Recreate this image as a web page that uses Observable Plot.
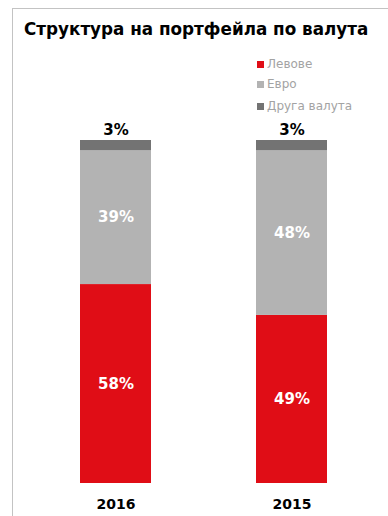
<!DOCTYPE html>
<html>
<head>
<meta charset="utf-8">
<script src="https://cdn.jsdelivr.net/npm/d3@7"></script>
<script src="https://cdn.jsdelivr.net/npm/@observablehq/plot@0.6"></script>
<style>
  html, body { margin: 0; padding: 0; background: #fff; }
  #wrap { position: relative; width: 388px; height: 516px; overflow: hidden; font-family: "DejaVu Sans", Verdana, sans-serif; }
  #frame { position: absolute; left: 12px; top: 8px; right: -2px; bottom: -2px; border-left: 1px solid #c3c3c3; border-top: 1px solid #c3c3c3; }
  #title { position: absolute; left: 24px; top: 19px; font-size: 16.8px; font-weight: bold; color: #000; white-space: nowrap; }
  #legend { position: absolute; left: 257px; top: 57px; font-size: 12px; color: #a3a3a3; }
  .row { position: absolute; left: 0; white-space: nowrap; display: flex; align-items: center; }
  .sw { width: 7px; height: 7px; margin-right: 3px; }
  #chart { position: absolute; left: 0; top: 110px; }
</style>
</head>
<body>
<div id="wrap">
  <div id="frame"></div>
  <div id="title">Структура на портфейла по валута</div>
  <div id="legend"></div>
  <div id="chart"></div>
</div>
<script>
const years = ["2016", "2015"];
const seriesNames = ["Левове", "Евро", "Друга валута"];
const levove = [58, 49];
const evro = [39, 48];
const druga = [3, 3];
const colors = ["#e00d16", "#b3b3b3", "#737373"];

const seriesValues = [levove, evro, druga];
const data = [];
seriesNames.forEach((s, si) => {
  years.forEach((y, yi) => data.push({year: y, series: s, value: seriesValues[si][yi]}));
});

// legend
const legend = document.getElementById("legend");
const legendTops = [0, 20, 42];
seriesNames.forEach((s, i) => {
  const row = document.createElement("div");
  row.className = "row";
  row.style.top = legendTops[i] + "px";
  row.innerHTML = `<span class="sw" style="background:${colors[i]}"></span><span>${s}</span>`;
  legend.appendChild(row);
});

const topName = seriesNames[seriesNames.length - 1];
const chart = Plot.plot({
  width: 388,
  height: 406,
  marginLeft: 26,
  marginRight: 8,
  marginTop: 30,
  marginBottom: 33,
  style: {fontFamily: "DejaVu Sans, Verdana, sans-serif", background: "transparent"},
  x: {domain: years, padding: 0.599, paddingOuter: 0.3, label: null, tickSize: 0, tickPadding: 16},
  y: {domain: [0, 100], axis: null},
  color: {domain: seriesNames, range: colors},
  marks: [
    Plot.barY(data, {x: "year", y: "value", fill: "series"}),
    Plot.text(data, Plot.stackY({
      x: "year", y: "value", z: "series",
      text: d => d.series === topName ? "" : d.value + "%",
      fill: "white", fontSize: 15, fontWeight: "bold"
    })),
    Plot.text(data, Plot.stackY2({
      x: "year", y: "value", z: "series",
      text: d => d.series === topName ? d.value + "%" : "",
      fill: "black", fontSize: 15, fontWeight: "bold", dy: -10
    }))
  ]
});
chart.querySelectorAll("[aria-label='x-axis tick label']").forEach(el => {
  el.setAttribute("font-weight", "bold");
  el.setAttribute("font-size", "14");
  el.setAttribute("fill", "#000");
});
document.getElementById("chart").appendChild(chart);
</script>
</body>
</html>
